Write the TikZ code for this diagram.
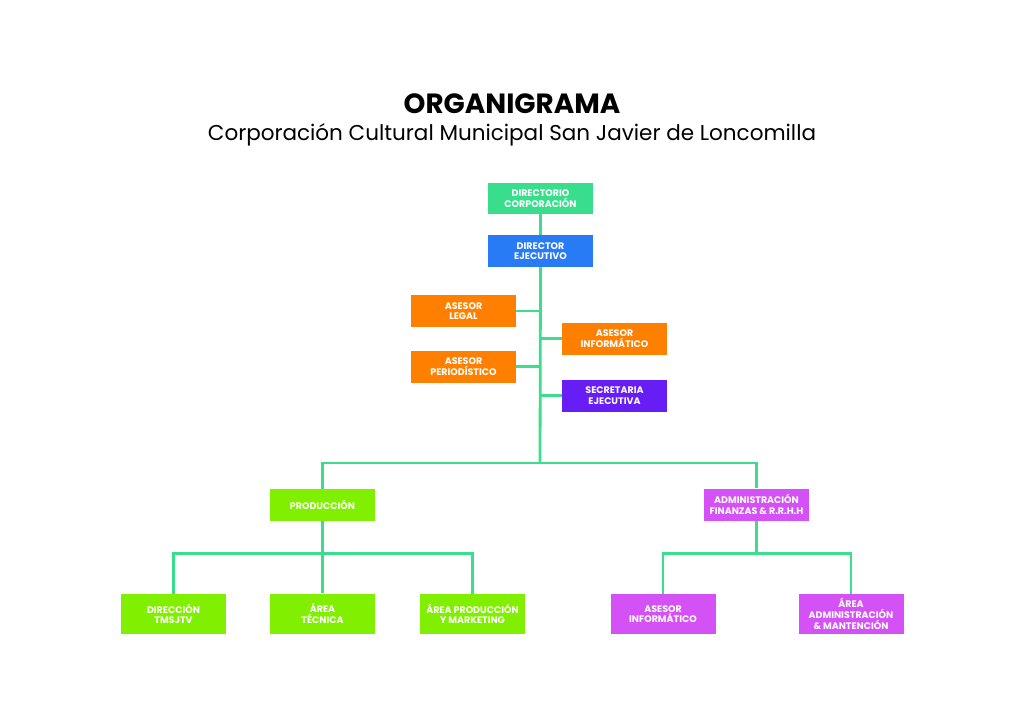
\documentclass[tikz,border=0pt]{standalone}
\usepackage{fontspec}
\setmainfont{Poppins}
\definecolor{cline}{RGB}{58,222,140}
\definecolor{cgreen}{RGB}{56,222,140}
\definecolor{cblue}{RGB}{40,122,245}
\definecolor{corange}{RGB}{255,128,0}
\definecolor{cpurple}{RGB}{102,30,245}
\definecolor{clime}{RGB}{128,240,0}
\definecolor{cmag}{RGB}{212,82,245}
\begin{document}
\begin{tikzpicture}[x=1pt,y=-1pt,
  box/.style={rectangle,draw=none,minimum width=105pt,minimum height=32pt,inner sep=0pt,
    align=center,text=white,font=\fontsize{9.5}{10.6}\selectfont\bfseries},
  tallbox/.style={box,minimum height=40pt},
  conn/.style={draw=cline,line width=2.8pt}]
\useasboundingbox[fill=white] (0,0) rectangle (1024,724);
\node[font=\fontsize{27.8}{30}\selectfont\bfseries] (title) at (512,103.5) {ORGANIGRAMA};
\node[font=\fontsize{21.5}{24}\selectfont] (sub) at (512,135) {Corporación Cultural Municipal San Javier de Loncomilla};

\node[box,fill=cgreen,minimum height=31pt] (dir) at (540.5,198.5) {DIRECTORIO\\CORPORACIÓN};
\node[box,fill=cblue] (dirEj) at (540.5,251) {DIRECTOR\\EJECUTIVO};
\node[box,fill=corange] (legal) at (463.5,311) {ASESOR\\LEGAL};
\node[box,fill=corange] (info) at (614.5,338.5) {ASESOR\\INFORMÁTICO};
\node[box,fill=corange] (perio) at (463.5,366.5) {ASESOR\\PERIODÍSTICO};
\node[box,fill=cpurple] (secr) at (614.5,395.5) {SECRETARIA\\EJECUTIVA};
\node[box,fill=clime] (prod) at (322.5,505) {PRODUCCIÓN};
\node[box,fill=cmag] (admin) at (756.5,504.5) {ADMINISTRACIÓN\\FINANZAS \& R.R.H.H};
\node[tallbox,fill=clime] (dirT) at (173.5,614) {DIRECCIÓN\\TMSJTV};
\node[tallbox,fill=clime] (tec) at (322.5,613.5) {ÁREA\\TÉCNICA};
\node[tallbox,fill=clime] (apm) at (472.5,614) {ÁREA PRODUCCIÓN\\Y MARKETING};
\node[tallbox,fill=cmag] (ainf) at (663,614) {ASESOR\\INFORMÁTICO};
\node[tallbox,fill=cmag] (aadm) at (851,614) {ÁREA\\ADMINISTRACIÓN\\\& MANTENCIÓN};

\coordinate (bus) at (540,463);
\coordinate (pbus) at (322.5,553.5);
\coordinate (abus) at (756.5,553.5);

\draw[conn] (dir.south) -- (dirEj.north);
\draw[conn] (dirEj.south) -- (bus);
\draw[conn] (legal.east) -- (legal.east -| dirEj.south);
\draw[conn] (perio.east) -- (perio.east -| dirEj.south);
\draw[conn] (info.west) -- (info.west -| dirEj.south);
\draw[conn] (secr.west) -- (secr.west -| dirEj.south);
\draw[conn] (prod.north) |- (bus) -| (admin.north);
\draw[conn] (prod.south) -- (pbus);
\draw[conn] (dirT.north) |- (pbus) -| (apm.north);
\draw[conn] (tec.north) -- (pbus);
\draw[conn] (admin.south) -- (abus);
\draw[conn] (ainf.north) |- (abus) -| (aadm.north);
\end{tikzpicture}
\end{document}
